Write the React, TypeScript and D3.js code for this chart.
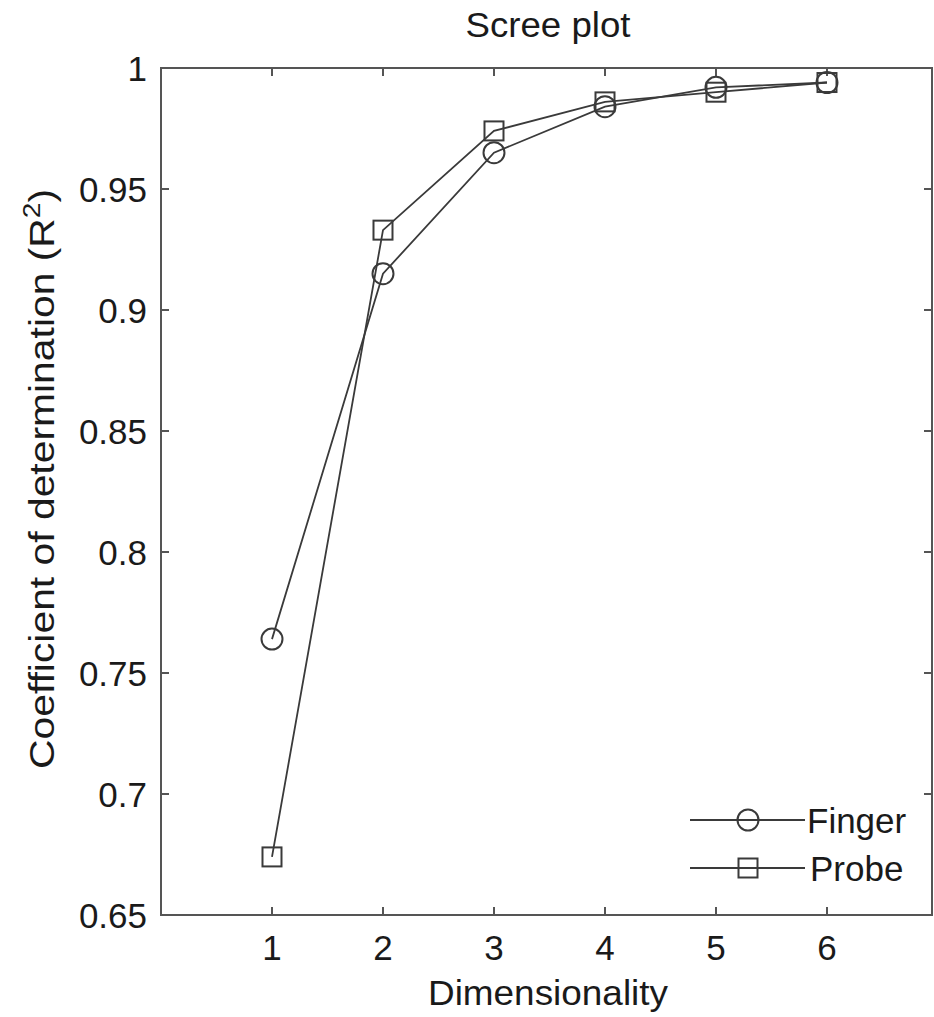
import React from "react";
import * as d3 from "d3";

const dims = [1, 2, 3, 4, 5, 6];
const finger = [0.764, 0.915, 0.965, 0.984, 0.992, 0.994];
const probe = [0.674, 0.933, 0.974, 0.986, 0.990, 0.994];
const yTicks = [0.65, 0.7, 0.75, 0.8, 0.85, 0.9, 0.95, 1];
const yTickLabels = ["0.65", "0.7", "0.75", "0.8", "0.85", "0.9", "0.95", "1"];
const xTicks = [1, 2, 3, 4, 5, 6];
const seriesNames = ["Finger", "Probe"];

const W = 934;
const H = 1017;
const L = 161, R = 932, T = 68, B = 915;

export default function App() {
  const x = d3.scaleLinear().domain([0, 6.946]).range([L, R]);
  const y = d3.scaleLinear().domain([0.65, 1]).range([B, T]);
  const line = d3.line<number>().x((_, i) => x(dims[i])).y((d) => y(d));
  const font = "'Liberation Sans', Arial, sans-serif";
  const axisColor = "#555";
  const lineColor = "#3a3a3a";
  const textColor = "#1a1a1a";
  const tl = 8;
  const fs = 35;

  const circle = (cx: number, cy: number, k: string) => (
    <circle key={k} cx={cx} cy={cy} r={10.5} fill="none" stroke={lineColor} strokeWidth={2} />
  );
  const square = (cx: number, cy: number, k: string) => (
    <rect key={k} x={cx - 9.5} y={cy - 9.5} width={19} height={19} fill="none" stroke={lineColor} strokeWidth={2} />
  );

  return (
    <svg width={W} height={H} style={{ position: "absolute", left: 0, top: 0, background: "#fff" }} fontFamily={font}>
      <rect x={0} y={0} width={W} height={H} fill="#fff" />
      {/* title */}
      <text x={548} y={37} textAnchor="middle" fontSize={fs} fill={textColor} textLength={165} lengthAdjust="spacingAndGlyphs">Scree plot</text>
      {/* axis box */}
      <rect x={L} y={T} width={R - L} height={B - T} fill="none" stroke={axisColor} strokeWidth={2} />
      {xTicks.map((t) => (
        <g key={"xt" + t}>
          <line x1={x(t)} x2={x(t)} y1={B} y2={B - tl} stroke={axisColor} strokeWidth={2} />
          <line x1={x(t)} x2={x(t)} y1={T} y2={T + tl} stroke={axisColor} strokeWidth={2} />
          <text x={x(t)} y={960} textAnchor="middle" fontSize={fs} fill={textColor}>{t}</text>
        </g>
      ))}
      {yTicks.map((t, i) => (
        <g key={"yt" + t}>
          <line x1={L} x2={L + tl} y1={y(t)} y2={y(t)} stroke={axisColor} strokeWidth={2} />
          <line x1={R} x2={R - tl} y1={y(t)} y2={y(t)} stroke={axisColor} strokeWidth={2} />
          <text x={147} y={y(t)} dy="0.36em" textAnchor="end" fontSize={fs} fill={textColor}>{yTickLabels[i]}</text>
        </g>
      ))}
      {/* axis labels */}
      <text x={548} y={1005} textAnchor="middle" fontSize={fs} fill={textColor} textLength={240} lengthAdjust="spacingAndGlyphs">Dimensionality</text>
      <text transform="translate(54,479) rotate(-90)" textAnchor="middle" fontSize={fs} fill={textColor} textLength={580} lengthAdjust="spacingAndGlyphs">
        Coefficient of determination (R<tspan dy={-14} fontSize={24}>2</tspan><tspan dy={14}>)</tspan>
      </text>
      {/* series */}
      <path d={line(finger) || ""} fill="none" stroke={lineColor} strokeWidth={1.8} />
      <path d={line(probe) || ""} fill="none" stroke={lineColor} strokeWidth={1.8} />
      {finger.map((v, i) => circle(x(dims[i]), y(v), "f" + i))}
      {probe.map((v, i) => square(x(dims[i]), y(v), "p" + i))}
      {/* legend */}
      <line x1={690} x2={805} y1={820} y2={820} stroke={lineColor} strokeWidth={1.8} />
      {circle(748, 820, "lc")}
      <text x={807} y={833} fontSize={fs} fill={textColor}>{seriesNames[0]}</text>
      <line x1={690} x2={805} y1={868} y2={868} stroke={lineColor} strokeWidth={1.8} />
      {square(748, 868, "ls")}
      <text x={810} y={881} fontSize={fs} fill={textColor}>{seriesNames[1]}</text>
    </svg>
  );
}
